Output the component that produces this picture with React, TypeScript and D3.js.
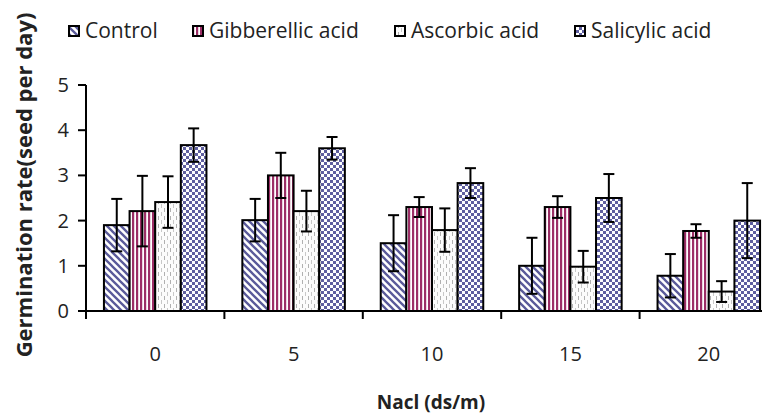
import React, { useEffect, useRef } from "react";
import * as d3 from "d3";

const categories = ["0", "5", "10", "15", "20"];
const seriesNames = ["Control", "Gibberellic acid", "Ascorbic acid", "Salicylic acid"];
const controlValues = [1.9, 2.01, 1.5, 1.0, 0.78];
const gibberellicValues = [2.21, 3.0, 2.3, 2.3, 1.77];
const ascorbicValues = [2.41, 2.21, 1.79, 0.98, 0.43];
const salicylicValues = [3.67, 3.6, 2.83, 2.5, 2.0];
const controlErrors = [0.58, 0.47, 0.62, 0.62, 0.48];
const gibberellicErrors = [0.78, 0.5, 0.22, 0.24, 0.15];
const ascorbicErrors = [0.57, 0.45, 0.48, 0.35, 0.23];
const salicylicErrors = [0.37, 0.25, 0.33, 0.53, 0.83];
const yTicks = [0, 1, 2, 3, 4, 5];

const FONT = "'Open Sans', sans-serif";

const App: React.FC = () => {
  const svgRef = useRef<SVGSVGElement | null>(null);

  useEffect(() => {
    const width = 762;
    const height = 416;
    const left = 86;
    const right = 778;
    const top = 85;
    const bottom = 311;

    const svg = d3.select(svgRef.current);
    svg.selectAll("*").remove();
    svg.attr("width", width).attr("height", height);

    const values = [controlValues, gibberellicValues, ascorbicValues, salicylicValues];
    const errors = [controlErrors, gibberellicErrors, ascorbicErrors, salicylicErrors];

    // fill patterns
    const defs = svg.append("defs");
    const diag = defs.append("pattern").attr("id", "p0").attr("patternUnits", "userSpaceOnUse")
      .attr("width", 7).attr("height", 7);
    diag.append("rect").attr("width", 7).attr("height", 7).attr("fill", "#fff");
    diag.append("path").attr("d", "M-1,-1 L8,8 M-1,6 L1,8 M6,-1 L8,1")
      .attr("stroke", "#5a5a9a").attr("stroke-width", 2.3);

    const vert = defs.append("pattern").attr("id", "p1").attr("patternUnits", "userSpaceOnUse")
      .attr("width", 4).attr("height", 4);
    vert.append("rect").attr("width", 4).attr("height", 4).attr("fill", "#fff");
    vert.append("rect").attr("x", 0).attr("width", 2.2).attr("height", 4).attr("fill", "#9c2e66");

    const dash = defs.append("pattern").attr("id", "p2").attr("patternUnits", "userSpaceOnUse")
      .attr("width", 6).attr("height", 8);
    dash.append("rect").attr("width", 6).attr("height", 8).attr("fill", "#fcfcfc");
    dash.append("line").attr("x1", 2.5).attr("x2", 2.5).attr("y1", 0).attr("y2", 4)
      .attr("stroke", "#b0b0b0").attr("stroke-width", 1);
    dash.append("line").attr("x1", 5.5).attr("x2", 5.5).attr("y1", 4).attr("y2", 8)
      .attr("stroke", "#c8c8c8").attr("stroke-width", 1);

    const check = defs.append("pattern").attr("id", "p3").attr("patternUnits", "userSpaceOnUse")
      .attr("width", 6).attr("height", 6);
    check.append("rect").attr("width", 6).attr("height", 6).attr("fill", "#fff");
    check.append("rect").attr("width", 3).attr("height", 3).attr("fill", "#5f5fa0");
    check.append("rect").attr("x", 3).attr("y", 3).attr("width", 3).attr("height", 3).attr("fill", "#5f5fa0");

    const x0 = d3.scaleBand().domain(categories).range([left, right]).padding(0);
    const x1 = d3.scaleBand().domain(seriesNames).range([0, x0.bandwidth()])
      .paddingInner(0).paddingOuter(0.7);
    const y = d3.scaleLinear().domain([0, 5]).range([bottom, top]);

    // bars
    seriesNames.forEach((s, si) => {
      categories.forEach((c, ci) => {
        const bx = (x0(c) ?? 0) + (x1(s) ?? 0);
        const v = values[si][ci];
        svg.append("rect")
          .attr("x", bx).attr("y", y(v))
          .attr("width", x1.bandwidth()).attr("height", y(0) - y(v))
          .attr("fill", `url(#p${si})`)
          .attr("stroke", "#000").attr("stroke-width", 2);
      });
    });

    // error bars
    seriesNames.forEach((s, si) => {
      categories.forEach((c, ci) => {
        const cx = (x0(c) ?? 0) + (x1(s) ?? 0) + x1.bandwidth() / 2;
        const v = values[si][ci];
        const e = errors[si][ci];
        const g = svg.append("g").attr("stroke", "#000").attr("stroke-width", 2);
        g.append("line").attr("x1", cx).attr("x2", cx).attr("y1", y(v + e)).attr("y2", y(v - e));
        g.append("line").attr("x1", cx - 5.5).attr("x2", cx + 5.5).attr("y1", y(v + e)).attr("y2", y(v + e));
        g.append("line").attr("x1", cx - 5.5).attr("x2", cx + 5.5).attr("y1", y(v - e)).attr("y2", y(v - e));
      });
    });

    // axes
    const axisG = svg.append("g").attr("stroke", "#000").attr("stroke-width", 2);
    axisG.append("line").attr("x1", left).attr("x2", left).attr("y1", top).attr("y2", bottom);
    axisG.append("line").attr("x1", left - 8).attr("x2", right).attr("y1", bottom).attr("y2", bottom);
    yTicks.forEach(t => {
      axisG.append("line").attr("x1", left - 8).attr("x2", left).attr("y1", y(t)).attr("y2", y(t));
    });
    categories.forEach(c => {
      const tx = (x0(c) ?? 0) + x0.bandwidth();
      axisG.append("line").attr("x1", tx).attr("x2", tx).attr("y1", bottom).attr("y2", bottom + 8);
    });
    axisG.append("line").attr("x1", left).attr("x2", left).attr("y1", bottom).attr("y2", bottom + 8);

    yTicks.forEach(t => {
      svg.append("text").attr("x", left - 17).attr("y", y(t)).attr("dy", "0.35em")
        .attr("text-anchor", "end").style("font-family", FONT).style("font-size", "20px")
        .attr("fill", "#222").text(t);
    });
    categories.forEach(c => {
      svg.append("text").attr("x", (x0(c) ?? 0) + x0.bandwidth() / 2).attr("y", 354).attr("dy", "0.35em")
        .attr("text-anchor", "middle").style("font-family", FONT).style("font-size", "20px")
        .attr("fill", "#222").text(c);
    });

    svg.append("text").attr("x", 431).attr("y", 402).attr("dy", "0.35em")
      .attr("text-anchor", "middle").style("font-family", FONT).style("font-size", "19px")
      .style("font-weight", "bold").attr("fill", "#222").text("Nacl (ds/m)");

    svg.append("text").attr("transform", "translate(24,185) rotate(-90)").attr("dy", "0.35em")
      .attr("text-anchor", "middle").style("font-family", FONT).style("font-size", "22px")
      .style("font-weight", "bold").attr("fill", "#222").text("Germination rate(seed per day)");

    // legend
    const legendX = [69, 193, 395, 575];
    seriesNames.forEach((s, si) => {
      svg.append("rect").attr("x", legendX[si]).attr("y", 26).attr("width", 10).attr("height", 10)
        .attr("fill", `url(#p${si})`).attr("stroke", "#000").attr("stroke-width", 2);
      svg.append("text").attr("x", legendX[si] + 16).attr("y", 31).attr("dy", "0.35em")
        .style("font-family", FONT).style("font-size", "21px").attr("fill", "#222").text(s);
    });
  }, []);

  return <svg ref={svgRef} style={{ position: "absolute", left: 0, top: 0, background: "#fff" }}></svg>;
};

export default App;
